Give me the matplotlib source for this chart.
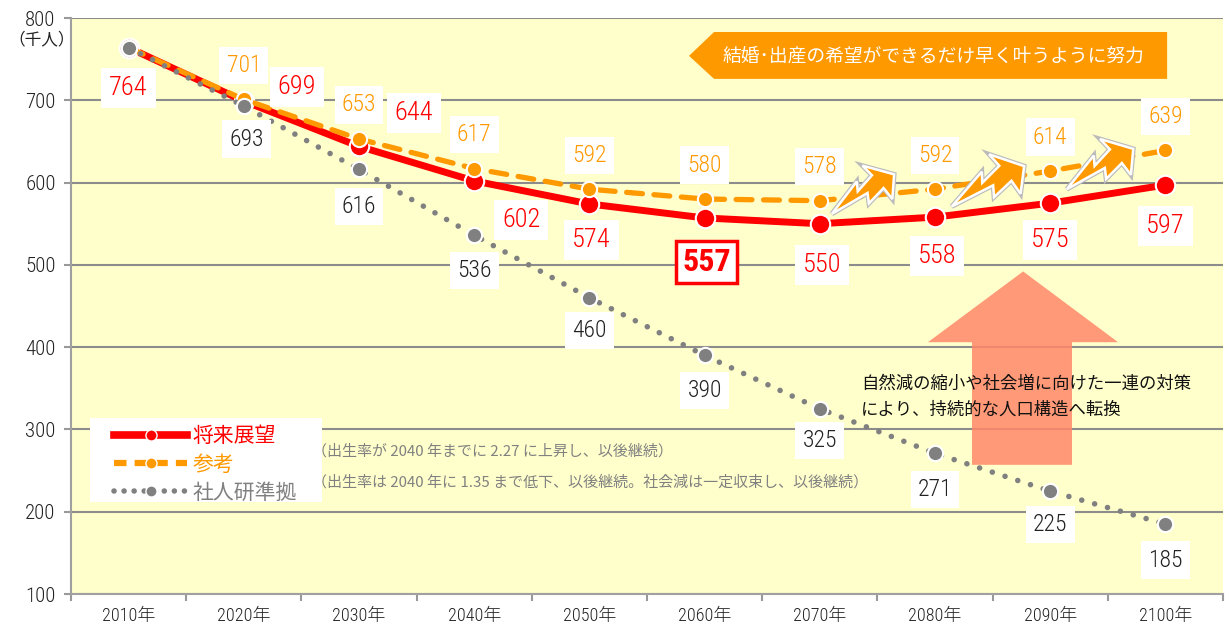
import matplotlib
matplotlib.use("Agg")
import matplotlib.pyplot as plt
import matplotlib.patheffects as pe
from matplotlib import font_manager
from matplotlib.lines import Line2D
from matplotlib.patches import Polygon, Rectangle
import numpy as np

installed = {f.name for f in font_manager.fontManager.ttflist}
num_font = next((n for n in ['Liberation Sans Narrow', 'Roboto Condensed',
                             'Roboto', 'Liberation Sans'] if n in installed),
                'DejaVu Sans')
light = any(f.name == num_font and f.weight in (300, 'light')
            for f in font_manager.fontManager.ttflist)
NUMW = 'light' if light else 'normal'

plt.rcParams['font.family'] = [num_font, 'Noto Sans CJK JP', 'DejaVu Sans']
JP = ['Noto Sans CJK JP', 'DejaVu Sans']

# ---- data (千人) ----
years = ['2010年', '2020年', '2030年', '2040年', '2050年',
         '2060年', '2070年', '2080年', '2090年', '2100年']
vision = [764, 699, 644, 602, 574, 557, 550, 558, 575, 597]      # 将来展望
reference = [764, 701, 653, 617, 592, 580, 578, 592, 614, 639]   # 参考
ipss = [764, 693, 616, 536, 460, 390, 325, 271, 225, 185]        # 社人研準拠

RED = '#FF0000'
ORANGE = '#FF9900'
GRAY = '#808080'
BG = '#FFFFCC'

# label offsets in pixels (dx, dy), None = no label
red_off = [(0, -40), (53, 14), (55, 33), (47, -39), (2, -36),
           None, (2, -41), (2, -39), (0, -37), (0, -41)]
orange_off = [None] + [(0, 34)] * 9
gray_off = [None, (3, -33), (0, -37), (0, -35), (0, -33),
            (0, -35), (0, -32), (0, -36), (0, -33), (0, -36)]

fig = plt.figure(figsize=(12.29, 6.33), dpi=100)
ax = fig.add_axes([71 / 1229, 39 / 633, 1152 / 1229, 576 / 633])
ax.set_facecolor(BG)
x = np.arange(len(years))

ax.plot(x, vision, color=RED, lw=5, marker='o', ms=14, mfc=RED,
        mec='white', mew=1.5, zorder=4, solid_capstyle='round')
ax.plot(x, reference, color=ORANGE, lw=3.8, ls=(0, (3, 2.2)),
        dash_capstyle='round', marker='o', ms=11, mfc=ORANGE,
        mec='white', mew=1.5, zorder=5)
ax.plot(x, ipss, color=GRAY, lw=4, ls=(0, (0.01, 2.4)),
        dash_capstyle='round', marker='o', ms=11, mfc=GRAY,
        mec='white', mew=1.5, zorder=6)

ax.set_xlim(-0.5, len(years) - 0.5)
ax.set_ylim(100, 800)
ax.set_yticks(range(100, 801, 100))
ax.set_xticks(x)
ax.set_xticklabels(years, fontsize=13)
ax.set_xticks(np.arange(-0.5, len(years)), minor=True)
ax.tick_params(axis='x', which='major', length=0, pad=9, labelcolor='#222222')
ax.tick_params(axis='x', which='minor', length=5, width=1.5, color='#999999')
ax.tick_params(axis='y', length=5, width=1.5, color='#999999',
               labelsize=15, pad=6, labelcolor='#222222')
for t in ax.get_xticklabels() + ax.get_yticklabels():
    t.set_fontweight(NUMW)
ax.grid(axis='y', color='#8C8C8C', lw=1.5)
ax.set_axisbelow(True)
for s in ['top', 'right']:
    ax.spines[s].set_visible(False)
for s in ['left', 'bottom']:
    ax.spines[s].set_color('#A0A0A0')
    ax.spines[s].set_linewidth(1.5)

fig.text(42 / 1229, 1 - 40 / 633, '（千人）', fontsize=12, family=JP,
         ha='center', va='center', color='#222222')


def label(vals, offs, color, size):
    for xi, v, off in zip(x, vals, offs):
        if off is None:
            continue
        ax.annotate(str(v), (xi, v), xytext=off, textcoords='offset pixels',
                    ha='center', va='center', fontsize=size, color=color,
                    fontweight=NUMW, zorder=8,
                    bbox=dict(boxstyle='square,pad=0.3', fc='white', ec='none'))


label(vision, red_off, RED, 19)
label(reference, orange_off, ORANGE, 17)
label(ipss, gray_off, '#222222', 17)

# highlighted 2060 value
ax.annotate(str(vision[5]), (x[5], vision[5]), xytext=(2, -44),
            textcoords='offset pixels', ha='center', va='center',
            fontsize=23, fontweight='bold', color=RED, zorder=8,
            bbox=dict(boxstyle='square,pad=0.2', fc='white', ec=RED, lw=2.5))

# big upward arrow
arrow = [(7.765, 492), (8.589, 406), (8.189, 406), (8.189, 257),
         (7.321, 257), (7.321, 406), (6.939, 406)]
ax.add_patch(Polygon(arrow, closed=True, fc='#FF8768', ec='none',
                     alpha=0.85, zorder=1.5))
ax.text(6.355, 340, '自然減の縮小や社会増に向けた一連の対策\nにより、持続的な人口構造へ転換',
        family=JP, fontsize=12.5, color='#111111', ha='left', va='center',
        linespacing=1.55, zorder=7)

# orange banner
banner = [(4.865, 754), (5.082, 783), (9.015, 783), (9.015, 726), (5.082, 726)]
ax.add_patch(Polygon(banner, closed=True, fc=ORANGE, ec='none', zorder=3))
ax.text(6.99, 754, '結婚･出産の希望ができるだけ早く叶うように努力', family=JP,
        fontsize=13.5, color='white', ha='center', va='center', zorder=4)

# zigzag arrows between later decades
fig.canvas.draw()
bolt = np.array([(0, 0), (0.52, 0.19), (0.46, 0.07), (0.74, 0.15),
                 (0.70, 0.33), (1.0, 0.0), (0.80, -0.27), (0.78, -0.08),
                 (0.50, -0.15), (0.56, -0.02)])
bolts = [((6.105, 562), (6.645, 610)),
         ((7.146, 571), (7.774, 620)),
         ((8.145, 592), (8.721, 641))]
for tail, tip in bolts:
    p0 = ax.transData.transform(tail)
    p1 = ax.transData.transform(tip)
    d = p1 - p0
    n = np.array([-d[1], d[0]])
    pts = p0 + np.outer(bolt[:, 0], d) + np.outer(bolt[:, 1], n)
    pts = ax.transData.inverted().transform(pts)
    ax.add_patch(Polygon(pts, closed=True, fc=ORANGE, ec='white', lw=1.8,
                         zorder=7,
                         path_effects=[pe.withStroke(linewidth=3.5, foreground='#BBBBBB')]))

# legend: white panel + frameless legend on top
fig.patches.append(Rectangle((90 / 1229, 1 - 502 / 633), 232 / 1229, 84 / 633,
                             transform=fig.transFigure, fc='white', ec='none',
                             zorder=8))
handles = [
    Line2D([], [], color=RED, lw=5.5, marker='o', ms=8, mfc=RED, mec='white'),
    Line2D([], [], color=ORANGE, lw=4.5, ls=(0, (2, 1.3)), marker='o', ms=8,
           mfc=ORANGE, mec='white'),
    Line2D([], [], color=GRAY, lw=4, ls=(0, (0.01, 1.8)),
           dash_capstyle='round', marker='o', ms=8, mfc=GRAY, mec='white'),
]
leg = fig.legend(handles, ['将来展望', '参考', '社人研準拠'], loc='upper left',
                 bbox_to_anchor=(108 / 1229, 1 - 419 / 633),
                 bbox_transform=fig.transFigure, borderaxespad=0,
                 prop={'family': JP, 'size': 15}, handlelength=3.5,
                 handletextpad=0.25, labelspacing=0.3, borderpad=0.3,
                 frameon=False, numpoints=1)
for t, c in zip(leg.get_texts(), [RED, ORANGE, GRAY]):
    t.set_color(c)
leg.set_zorder(9)

fig.text(312 / 1229, 1 - 451 / 633,
         '（出生率が 2040 年までに 2.27 に上昇し、以後継続）',
         family=JP, fontsize=10.8, color=GRAY, va='center')
fig.text(312 / 1229, 1 - 482 / 633,
         '（出生率は 2040 年に 1.35 まで低下、以後継続。社会減は一定収束し、以後継続）',
         family=JP, fontsize=10.8, color=GRAY, va='center')

fig.savefig('out.png', dpi=100, facecolor='white')
